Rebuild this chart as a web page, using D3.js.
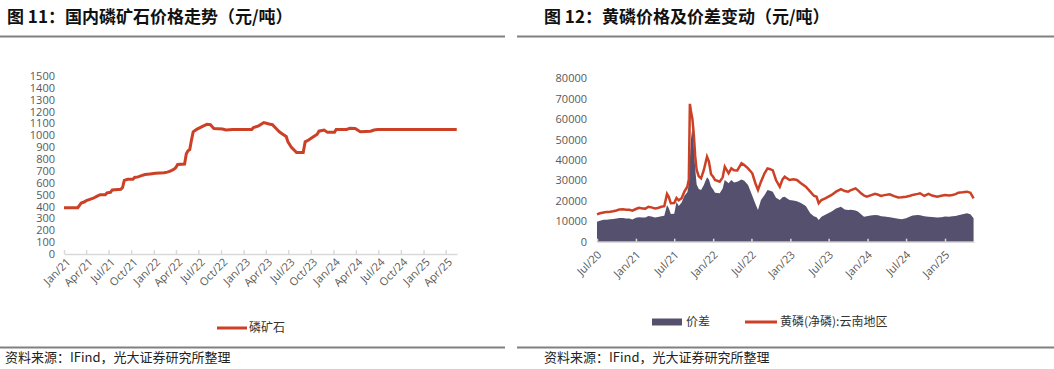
<!DOCTYPE html>
<html>
<head>
<meta charset="utf-8">
<script src="https://cdn.jsdelivr.net/npm/d3@7"></script>
<style>
body { margin: 0; background: #fff; }
svg { display: block; }
.title { font-family: "Noto Sans CJK SC", sans-serif; font-weight: bold; font-size: 17px; fill: #111; }
.source { font-family: "Noto Sans CJK SC", sans-serif; font-size: 13px; fill: #222; }
.axis text { font-family: "Open Sans", "Noto Sans CJK SC", sans-serif; font-size: 11px; fill: #595959; }
.axis .domain, .axis line { stroke: #d9d9d9; stroke-width: 1.5; }
.legend text { font-family: "Noto Sans CJK SC", sans-serif; font-size: 12px; fill: #333; }
</style>
</head>
<body>
<div id="charts"></div>
<script>
(function() {

// ---- figure 11: phosphate rock price (yuan/t)
var oreName = "磷矿石";
var oreDates = [
  "2021-01-01","2021-02-26","2021-03-05","2021-03-12","2021-03-26","2021-04-02","2021-04-16","2021-04-30",
  "2021-05-14","2021-05-28","2021-06-18","2021-06-25","2021-07-09","2021-07-16","2021-08-20","2021-08-27",
  "2021-09-03","2021-09-17","2021-10-08","2021-10-15","2021-10-29","2021-11-12","2021-11-26","2021-12-17",
  "2022-01-07","2022-02-11","2022-02-25","2022-03-11","2022-03-25","2022-04-01","2022-04-08","2022-05-06",
  "2022-05-13","2022-05-20","2022-05-27","2022-06-03","2022-06-10","2022-06-24","2022-07-08","2022-07-22",
  "2022-08-05","2022-08-19","2022-09-02","2022-10-07","2022-10-21","2022-11-18","2023-02-03","2023-02-10",
  "2023-03-03","2023-03-24","2023-04-14","2023-04-28","2023-05-12","2023-05-26","2023-06-09","2023-06-23",
  "2023-06-30","2023-07-14","2023-07-28","2023-08-04","2023-08-31","2023-09-08","2023-09-22","2023-10-13",
  "2023-10-27","2023-11-03","2023-11-24","2023-12-08","2024-01-05","2024-01-12","2024-02-23","2024-03-08",
  "2024-03-29","2024-04-19","2024-05-31","2024-06-14","2024-06-28","2025-05-16"];
var oreValues = [
  390,390,410,430,440,450,460,470,
  485,500,500,515,520,540,545,560,
  620,630,630,645,650,660,670,675,
  680,685,690,700,715,730,755,758,
  845,870,880,960,1030,1050,1065,1080,
  1093,1090,1058,1053,1045,1050,1050,1065,
  1080,1108,1095,1090,1060,1030,1010,990,
  945,900,870,855,855,945,960,990,
  1010,1035,1045,1025,1025,1050,1050,1060,
  1058,1030,1035,1045,1050,1050];
var oreYTicks = [0,100,200,300,400,500,600,700,800,900,1000,1100,1200,1300,1400,1500];
var oreXLabels = ["Jan/21","Apr/21","Jul/21","Oct/21","Jan/22","Apr/22","Jul/22","Oct/22","Jan/23",
  "Apr/23","Jul/23","Oct/23","Jan/24","Apr/24","Jul/24","Oct/24","Jan/25","Apr/25"];

// ---- figure 12: yellow phosphorus price and spread (yuan/t)
var ypNames = ["价差", "黄磷(净磷):云南地区"];
var ypDates = [
  "2020-07-01","2020-07-15","2020-08-01","2020-08-15","2020-09-01","2020-09-15","2020-10-01","2020-10-15",
  "2020-11-01","2020-11-15","2020-12-01","2020-12-15","2021-01-01","2021-01-15","2021-02-01","2021-02-15",
  "2021-03-01","2021-03-15","2021-04-01","2021-04-15","2021-05-01","2021-05-15","2021-05-28","2021-06-05",
  "2021-06-15","2021-07-01","2021-07-12","2021-07-22","2021-08-05","2021-08-18","2021-09-01","2021-09-08",
  "2021-09-13","2021-09-18","2021-09-25","2021-10-02","2021-10-08","2021-10-15","2021-10-25","2021-11-05",
  "2021-11-18","2021-12-03","2021-12-12","2021-12-22","2022-01-01","2022-01-10","2022-02-01","2022-02-15",
  "2022-02-25","2022-03-15","2022-03-28","2022-04-10","2022-04-25","2022-05-15","2022-05-28","2022-06-15",
  "2022-07-05","2022-07-20","2022-08-01","2022-08-15","2022-09-01","2022-09-15","2022-09-28","2022-10-10",
  "2022-10-25","2022-11-12","2022-11-25","2022-12-05","2022-12-28","2023-01-15","2023-02-01","2023-02-20",
  "2023-03-15","2023-04-05","2023-04-22","2023-05-05","2023-05-15","2023-05-28","2023-06-15","2023-07-15",
  "2023-08-05","2023-08-28","2023-09-15","2023-10-01","2023-10-15","2023-11-05","2023-11-18","2023-12-01",
  "2023-12-15","2023-12-28","2024-01-15","2024-02-05","2024-02-20","2024-03-05","2024-03-20","2024-04-15",
  "2024-05-05","2024-05-25","2024-06-10","2024-07-01","2024-07-20","2024-08-01","2024-08-25","2024-09-05",
  "2024-09-25","2024-10-15","2024-11-01","2024-11-25","2024-12-15","2025-01-01","2025-01-20","2025-02-05",
  "2025-02-20","2025-03-05","2025-03-25","2025-04-15","2025-05-01","2025-05-16"];
var ypPrice = [
  13400,13900,14300,14500,14700,14900,15300,15800,
  15900,15700,15600,15200,16000,16600,16300,16200,
  17100,16800,16300,16500,17100,17400,23400,22000,
  18800,18900,21400,20300,21300,24500,26900,30500,
  67500,64000,60000,52000,42000,35100,32000,31000,
  35100,41600,39200,33000,31800,30200,29400,31500,
  36700,33500,35900,35000,34900,38400,37500,35900,
  33500,28500,25300,29400,33500,35900,35500,34900,
  30200,26900,30500,31800,30200,30600,30200,28600,
  26900,24500,22500,22000,18800,20400,21200,22900,
  24500,25700,24800,24500,25300,26100,25000,23700,
  22600,22000,22700,23400,23000,22400,22800,23200,
  22300,21700,21800,22000,22500,22900,23400,23700,
  22400,23400,22600,22000,22500,22900,22600,22900,
  23300,24000,24200,24500,24000,21200];
var ypSpread = [
  9800,10300,10700,10800,11000,11100,11300,11600,
  11600,11400,11300,10900,11700,12000,11800,11900,
  12600,12300,11900,12100,12500,12700,18000,16500,
  13600,13700,19500,17500,19200,22500,24200,28000,
  40000,50000,56000,46000,36000,28000,25800,25300,
  27800,31500,30500,27000,25500,24000,23700,26000,
  30200,28600,30200,29000,29400,30400,29800,27800,
  22500,18500,15500,20400,22900,25300,25000,24500,
  21500,20400,21800,22000,20400,20200,19800,19000,
  17500,13900,12500,12000,10600,12200,13200,14800,
  16200,17100,15800,15500,15600,15300,14700,13500,
  12200,12400,12800,13100,12900,12500,12300,12000,
  11600,11200,11000,11500,12300,12800,13100,12900,
  12400,12200,12100,11800,12000,12300,12200,12500,
  12600,13000,13400,13900,13500,11500];
var ypYTicks = [0,10000,20000,30000,40000,50000,60000,70000,80000];
var ypXLabels = ["Jul/20","Jan/21","Jul/21","Jan/22","Jul/22","Jan/23","Jul/23","Jan/24","Jul/24","Jan/25"];

var red = "#cc4125",
    purple = "#56506f";

var parseDate = d3.timeParse("%Y-%m-%d"),
    parseTick = d3.timeParse("%b/%y");

var ore = oreDates.map(function(d, i) { return {date: parseDate(d), value: oreValues[i]}; });
var yp = ypDates.map(function(d, i) { return {date: parseDate(d), price: ypPrice[i], spread: ypSpread[i]}; });

var svg = d3.select("#charts").append("svg")
    .attr("width", 1054)
    .attr("height", 369);

// header / footer rules and texts
[[0, 505], [517, 1054]].forEach(function(r) {
  svg.append("line").attr("x1", r[0]).attr("x2", r[1]).attr("y1", 36.5).attr("y2", 36.5)
      .style("stroke", "#808080").style("stroke-width", 2);
  svg.append("line").attr("x1", r[0]).attr("x2", r[1]).attr("y1", 347.5).attr("y2", 347.5)
      .style("stroke", "#808080").style("stroke-width", 2);
});

svg.append("text").attr("class", "title").attr("x", 7).attr("y", 22.5).text("图 11：国内磷矿石价格走势（元/吨）");
svg.append("text").attr("class", "title").attr("x", 544).attr("y", 22.5).text("图 12：黄磷价格及价差变动（元/吨）");
svg.append("text").attr("class", "source").attr("x", 5).attr("y", 362).text("资料来源：IFind，光大证券研究所整理");
svg.append("text").attr("class", "source").attr("x", 544).attr("y", 362).text("资料来源：IFind，光大证券研究所整理");

// ---------- left chart
var xL = d3.scaleTime()
    .domain([parseDate("2021-01-01"), parseDate("2025-05-17")])
    .range([64, 457]);

var yL = d3.scaleLinear()
    .domain([0, 1500])
    .range([254, 76]);

svg.append("g")
    .attr("class", "axis")
    .attr("transform", "translate(64,0)")
    .call(d3.axisLeft(yL).tickValues(oreYTicks).tickFormat(d3.format("d")).tickSize(0).tickPadding(9))
    .call(function(g) { g.select(".domain").remove(); });

svg.append("g")
    .attr("class", "axis")
    .attr("transform", "translate(0,254)")
    .call(d3.axisBottom(xL)
      .tickValues(oreXLabels.map(parseTick))
      .tickFormat(function(d, i) { return oreXLabels[i]; })
      .tickSize(-4).tickSizeOuter(0))
  .selectAll("text")
    .attr("text-anchor", "end")
    .attr("y", 0)
    .attr("dy", "0.35em")
    .attr("transform", "translate(4,6) rotate(-45)");

svg.append("path")
    .datum(ore)
    .attr("fill", "none")
    .attr("stroke", red)
    .attr("stroke-width", 3)
    .attr("d", d3.line()
      .x(function(d) { return xL(d.date); })
      .y(function(d) { return yL(d.value); }));

var legL = svg.append("g").attr("class", "legend");
legL.append("line").attr("x1", 217).attr("x2", 247).attr("y1", 328).attr("y2", 328)
    .style("stroke", red).style("stroke-width", 3);
legL.append("text").attr("x", 249).attr("y", 328).attr("dy", "0.35em").text(oreName);

// ---------- right chart
var xR = d3.scaleTime()
    .domain([parseDate("2020-07-01"), parseDate("2025-05-18")])
    .range([597, 974]);

var yR = d3.scaleLinear()
    .domain([0, 80000])
    .range([241.7, 78.3]);

svg.append("g")
    .attr("class", "axis")
    .attr("transform", "translate(596,0)")
    .call(d3.axisLeft(yR).tickValues(ypYTicks).tickFormat(d3.format("d")).tickSize(0).tickPadding(9))
    .call(function(g) { g.select(".domain").remove(); });

svg.append("path")
    .datum(yp)
    .attr("fill", purple)
    .attr("d", d3.area()
      .x(function(d) { return xR(d.date); })
      .y0(yR(0))
      .y1(function(d) { return yR(d.spread); }));

svg.append("path")
    .datum(yp)
    .attr("fill", "none")
    .attr("stroke", red)
    .attr("stroke-width", 2.5)
    .attr("d", d3.line()
      .x(function(d) { return xR(d.date); })
      .y(function(d) { return yR(d.price); }));

svg.append("g")
    .attr("class", "axis")
    .attr("transform", "translate(0,241.7)")
    .call(d3.axisBottom(xR)
      .tickValues(ypXLabels.map(parseTick))
      .tickFormat(function(d, i) { return ypXLabels[i]; })
      .tickSize(-3).tickSizeOuter(0))
  .selectAll("text")
    .attr("text-anchor", "end")
    .attr("y", 0)
    .attr("dy", "0.35em")
    .attr("transform", "translate(2,11) rotate(-45)");

var legR = svg.append("g").attr("class", "legend");
legR.append("rect").attr("x", 652).attr("y", 318.5).attr("width", 30).attr("height", 7).attr("fill", purple);
legR.append("text").attr("x", 686).attr("y", 322).attr("dy", "0.35em").text(ypNames[0]);
legR.append("line").attr("x1", 745).attr("x2", 777).attr("y1", 322).attr("y2", 322)
    .style("stroke", red).style("stroke-width", 3);
legR.append("text").attr("x", 780).attr("y", 322).attr("dy", "0.35em").text(ypNames[1]);

})()
</script>
</body>
</html>
